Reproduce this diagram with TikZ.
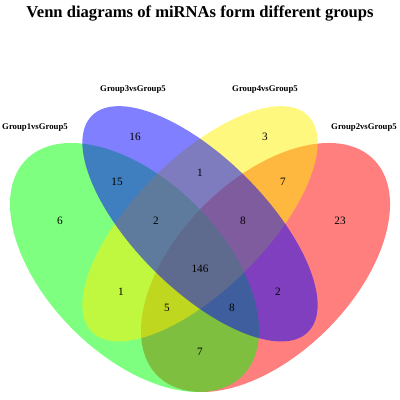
\documentclass[tikz,border=0pt]{standalone}
\usepackage{fontspec}
\setmainfont{Liberation Serif}
\usepackage{tikz}

\begin{document}
\begin{tikzpicture}
\tikzstyle{every node}=[inner sep=0pt]
\tikzstyle{vset}=[fill opacity=0.5]
\tikzstyle{setname}=[font=\bfseries\fontsize{6.2}{7}\selectfont]
\tikzstyle{count}=[font=\fontsize{8}{9}\selectfont]
\useasboundingbox (0,0) rectangle (10,10);

% ellipses, drawn red, green, yellow, blue
\fill[vset,red,rotate around={45:(6.6375,3.3125)}] (6.6375,3.3125) ellipse (3.822 and 2.184);
\fill[vset,green,rotate around={-45:(3.3625,3.3125)}] (3.3625,3.3125) ellipse (3.822 and 2.184);
\fill[vset,yellow,rotate around={45:(5,4.405)}] (5,4.405) ellipse (3.822 and 1.638);
\fill[vset,blue,rotate around={-45:(5,4.405)}] (5,4.405) ellipse (3.822 and 1.638);

\node[font=\bfseries\fontsize{11.8}{14}\selectfont](title) at (5,9.65) {Venn diagrams of miRNAs form different groups};

\node[setname](G1) at (0.875,6.8) {Group1vsGroup5};
\node[setname](G3) at (3.325,7.75) {Group3vsGroup5};
\node[setname](G4) at (6.625,7.75) {Group4vsGroup5};
\node[setname](G2) at (9.1,6.8) {Group2vsGroup5};

\node[count](n16) at (3.375,6.575) {16};
\node[count](n3) at (6.625,6.575) {3};
\node[count](n1a) at (5,5.675) {1};
\node[count](n15) at (2.925,5.45) {15};
\node[count](n7a) at (7.075,5.45) {7};
\node[count](n6) at (1.5,4.475) {6};
\node[count](n2a) at (3.9,4.475) {2};
\node[count](n8a) at (6.075,4.475) {8};
\node[count](n23) at (8.5,4.475) {23};
\node[count](n146) at (5,3.275) {146};
\node[count](n1b) at (3.025,2.7) {1};
\node[count](n2b) at (6.95,2.7) {2};
\node[count](n5) at (4.175,2.3) {5};
\node[count](n8b) at (5.8,2.3) {8};
\node[count](n7b) at (5,1.2) {7};

\end{tikzpicture}
\end{document}
